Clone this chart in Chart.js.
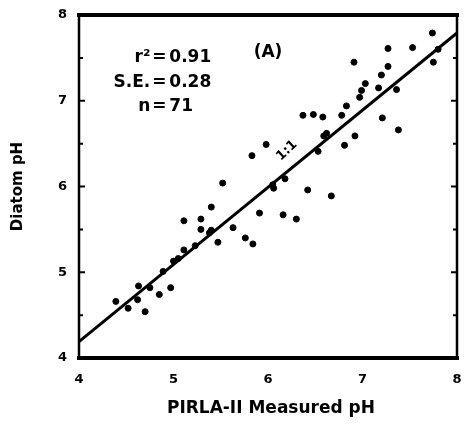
<!DOCTYPE html>
<html>
<head>
<meta charset="utf-8">
<script src="https://cdn.jsdelivr.net/npm/chart.js@4/dist/chart.umd.min.js"></script>
<style>
  html, body { margin: 0; padding: 0; background: #fff; }
  #wrap { width: 465px; height: 425px; }
</style>
</head>
<body>
<div id="wrap"><canvas id="chart"></canvas></div>
<script>
// PIRLA-II measured pH vs diatom-inferred pH
const measuredPH = [
  4.39, 4.52, 4.62, 4.63, 4.70, 4.75, 4.85, 4.97, 4.89, 5.00,
  5.11, 5.11, 5.23, 5.29, 5.29, 5.40, 5.40, 5.47, 5.52, 5.63,
  5.76, 5.84, 5.91, 6.06, 5.98, 5.83, 7.74, 7.27, 7.53,
  7.80, 7.75, 6.91, 7.27, 7.20, 7.03, 6.99, 6.97, 6.83, 6.78,
  7.17, 7.36, 7.21, 7.38, 6.37, 6.48, 6.58, 6.59, 6.92, 6.81,
  6.53, 6.18, 6.42, 6.67, 6.16, 6.30, 5.38, 5.05, 6.05, 6.62
];
const diatomPH = [
  4.66, 4.58, 4.68, 4.84, 4.54, 4.82, 4.74, 4.82, 5.01, 5.13,
  5.26, 5.60, 5.31, 5.62, 5.50, 5.76, 5.49, 5.35, 6.04, 5.52,
  5.40, 5.33, 5.69, 5.98, 6.49, 6.36, 7.79, 7.61, 7.62,
  7.60, 7.45, 7.45, 7.40, 7.30, 7.20, 7.12, 7.04, 6.94, 6.83,
  7.15, 7.13, 6.80, 6.66, 6.83, 6.84, 6.81, 6.59, 6.59, 6.48,
  6.41, 6.09, 5.96, 5.89, 5.67, 5.62, 5.46, 5.16, 6.02, 6.62
];
const fitX = [4, 8];
const fitY = [4.19, 7.79];
const axisTicks = [4, 5, 6, 7, 8];
const statLines = ['r\u00B2 = 0.91', 'S.E. = 0.28', 'n = 71'];

const points = measuredPH.map((x, i) => ({ x, y: diatomPH[i] }));
const fitLine = fitX.map((x, i) => ({ x, y: fitY[i] }));

const FONT = '"DejaVu Sans", "Liberation Sans", Arial, sans-serif';

const frame = {
  id: 'frame',
  afterDraw(chart) {
    const { ctx, chartArea: a, scales: { x, y } } = chart;
    ctx.save();
    ctx.strokeStyle = '#000';
    ctx.lineCap = 'square';
    // thick top and bottom, thinner sides
    ctx.lineWidth = 4;
    ctx.beginPath();
    ctx.moveTo(a.left, a.top); ctx.lineTo(a.right, a.top);
    ctx.moveTo(a.left, a.bottom); ctx.lineTo(a.right, a.bottom);
    ctx.stroke();
    ctx.lineWidth = 2.5;
    ctx.beginPath();
    ctx.moveTo(a.left, a.top); ctx.lineTo(a.left, a.bottom);
    ctx.moveTo(a.right, a.top); ctx.lineTo(a.right, a.bottom);
    ctx.stroke();
    // inward ticks every half unit on the side axes
    ctx.lineWidth = 2;
    ctx.beginPath();
    for (let v = 4.5; v < 8; v += 0.5) {
      const py = y.getPixelForValue(v);
      const len = Number.isInteger(v) ? 5 : 3;
      ctx.moveTo(a.left, py); ctx.lineTo(a.left + len, py);
      ctx.moveTo(a.right, py); ctx.lineTo(a.right - len, py);
    }
    ctx.stroke();

    // statistics block, lined up on the "=" signs
    ctx.fillStyle = '#000';
    ctx.font = 'bold 17px ' + FONT;
    ctx.textBaseline = 'middle';
    const eqX = x.getPixelForValue(4.85);
    statLines.forEach((s, i) => {
      const [lhs, rhs] = s.split('=');
      const py = y.getPixelForValue(7.50 - i * 0.285);
      ctx.textAlign = 'right';
      ctx.fillText(lhs.trim(), eqX - 9, py);
      ctx.textAlign = 'center';
      ctx.fillText('=', eqX, py);
      ctx.textAlign = 'left';
      ctx.fillText(rhs.trim(), eqX + 10, py);
    });
    ctx.textAlign = 'center';
    ctx.fillText('(A)', x.getPixelForValue(6.0), y.getPixelForValue(7.56));

    // 1:1 label along the line
    ctx.save();
    ctx.translate(x.getPixelForValue(6.2), y.getPixelForValue(6.42));
    ctx.rotate(-Math.PI / 4.2);
    ctx.font = 'bold 13px ' + FONT;
    ctx.fillText('1:1', 0, 0);
    ctx.restore();
    ctx.restore();
  }
};

new Chart(document.getElementById('chart'), {
  type: 'scatter',
  data: {
    datasets: [
      {
        data: points,
        backgroundColor: '#000',
        borderColor: '#000',
        pointRadius: 3,
        pointHoverRadius: 3
      },
      {
        type: 'line',
        data: fitLine,
        showLine: true,
        borderColor: '#000',
        borderWidth: 3,
        pointRadius: 0,
        fill: false
      }
    ]
  },
  options: {
    responsive: true,
    maintainAspectRatio: false,
    animation: false,
    events: [],
    layout: { padding: { top: 15, right: 8, left: 0, bottom: 0 } },
    plugins: { legend: { display: false }, tooltip: { enabled: false } },
    scales: {
      x: {
        type: 'linear',
        min: 4,
        max: 8,
        afterBuildTicks: s => { s.ticks = axisTicks.map(v => ({ value: v })); },
        afterFit: s => { s.height = 67; s.paddingLeft = 0; s.paddingRight = 0; },
        grid: { display: false, drawTicks: false },
        border: { display: false },
        ticks: {
          color: '#000',
          padding: 14,
          font: { family: FONT, size: 13, weight: 'bold' }
        },
        title: {
          display: true,
          text: ' PIRLA-II Measured pH',
          color: '#000',
          padding: { top: 0, bottom: 6 },
          font: { family: FONT, size: 17, weight: 'bold' }
        }
      },
      y: {
        type: 'linear',
        min: 4,
        max: 8,
        afterBuildTicks: s => { s.ticks = axisTicks.map(v => ({ value: v })); },
        afterFit: s => { s.width = 79; s.paddingTop = 0; s.paddingBottom = 0; },
        grid: { display: false, drawTicks: false },
        border: { display: false },
        ticks: {
          color: '#000',
          padding: 12,
          font: { family: FONT, size: 13, weight: 'bold' }
        },
        title: {
          display: true,
          text: 'Diatom pH',
          color: '#000',
          padding: { top: 9, bottom: 0 },
          font: { family: FONT, size: 15, weight: 'bold' }
        }
      }
    }
  },
  plugins: [frame]
});
</script>
</body>
</html>
